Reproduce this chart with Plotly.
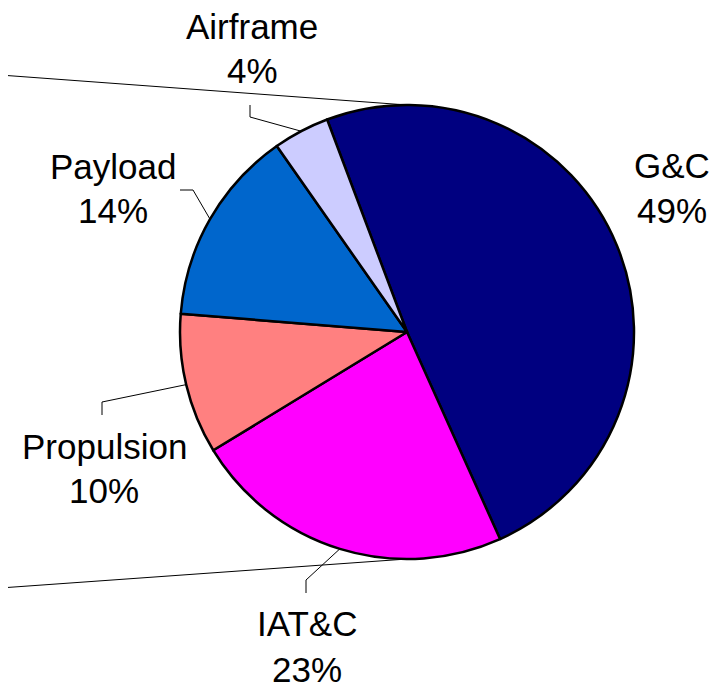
import math
import plotly.graph_objects as go

# slice data (clockwise from the G&C edge)
labels = ["G&C", "IAT&C", "Propulsion", "Payload", "Airframe"]
shares = [49, 23, 10, 14, 4]
colors = ["#000080", "#FF00FF", "#FF8080", "#0066CC", "#CCCCFF"]

# the page body has an 8px margin, so the figure is 8px smaller than the window
# and the axes run in window pixels
OFF = 8
W, H = 728, 689
cx, cy, r = 407, 332, 227
start_angle = -20.6  # degrees clockwise from 12 o'clock

# label layout: (x, y of name line, y of percent line) in window pixels
label_pos = {
    "G&C": (672, 165, 210),
    "IAT&C": (307, 623, 669),
    "Propulsion": (104, 446, 490),
    "Payload": (113, 166, 210),
    "Airframe": (252, 26, 70),
}
leader_knee = {
    "IAT&C": [(306, 580), (306, 593)],
    "Propulsion": [(102, 402), (102, 415)],
    "Payload": [(193, 190), (180, 190)],
    "Airframe": [(250, 117), (250, 105)],
}

fig = go.Figure()

# connector lines from the left edge to the top / bottom of the pie
for y0, yp in [(75, cy - r), (588, cy + r)]:
    fig.add_trace(go.Scatter(x=[0, cx], y=[y0, yp], mode="lines",
                             line=dict(color="black", width=1),
                             hoverinfo="skip", showlegend=False))

# leader lines, starting on the rim at each slice's mid angle
total = sum(shares)
acc = 0
for lab, v in zip(labels, shares):
    mid = math.radians(start_angle + (acc + v / 2) / total * 360)
    acc += v
    if lab not in leader_knee:
        continue
    ex = cx + r * math.sin(mid)
    ey = cy - r * math.cos(mid)
    pts = [(ex, ey)] + leader_knee[lab]
    fig.add_trace(go.Scatter(x=[p[0] for p in pts], y=[p[1] for p in pts],
                             mode="lines", line=dict(color="black", width=1),
                             hoverinfo="skip", showlegend=False))

fw, fh = W - OFF, H - OFF
fig.add_trace(go.Pie(
    labels=labels,
    values=shares,
    sort=False,
    direction="clockwise",
    rotation=start_angle,
    marker=dict(colors=colors, line=dict(color="black", width=2.5)),
    textinfo="none",
    showlegend=False,
    domain=dict(x=[(cx - r - OFF) / fw, (cx + r - OFF) / fw],
                y=[1 - (cy + r - OFF) / fh, 1 - (cy - r - OFF) / fh]),
))

font = dict(family="Arial, Liberation Sans", size=35, color="black")
annotations = []
for lab, v in zip(labels, shares):
    x, y1, y2 = label_pos[lab]
    for txt, y in [(lab, y1), (f"{v}%", y2)]:
        annotations.append(dict(x=x, y=y, xref="x", yref="y", text=txt,
                                showarrow=False, xanchor="center",
                                yanchor="middle", font=font))

fig.update_layout(
    width=fw, height=fh,
    margin=dict(l=0, r=0, t=0, b=0),
    paper_bgcolor="white", plot_bgcolor="white",
    xaxis=dict(range=[OFF, W], visible=False, fixedrange=True),
    yaxis=dict(range=[H, OFF], visible=False, fixedrange=True),
    annotations=annotations,
)

fig.write_html("out.html")
